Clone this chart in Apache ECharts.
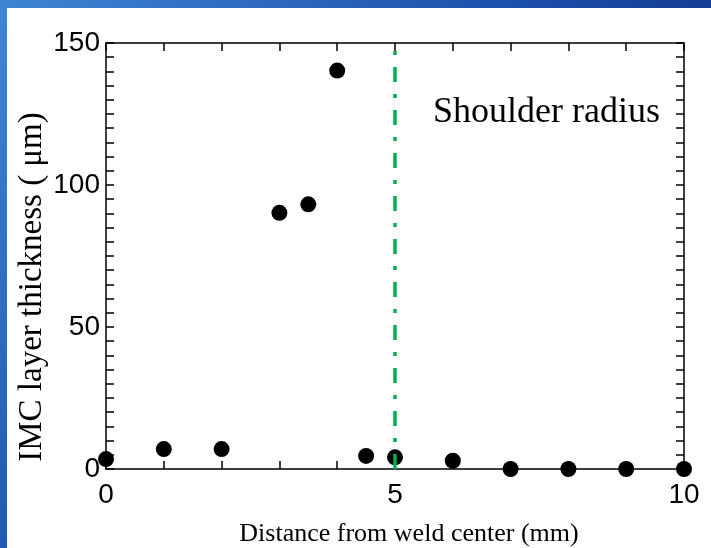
<!DOCTYPE html>
<html>
<head>
<meta charset="utf-8">
<script src="https://cdn.jsdelivr.net/npm/echarts@6/dist/echarts.min.js"></script>
<style>
  html, body { margin: 0; padding: 0; }
  #chart { width: 711px; height: 548px; }
</style>
</head>
<body>
<div id="chart"></div>
<script>
// distance from weld center (mm) and IMC thickness (um)
var distance = [0, 1, 2, 3, 3.5, 4, 4.5, 5, 6, 7, 8, 9, 10];
var thickness = [3.5, 7.0, 7.0, 90.2, 93.2, 140.3, 4.6, 4.1, 2.9, 0, 0, 0, 0];
var xLabels = [0, 5, 10];
var yLabels = [0, 50, 100, 150];
var shoulderRadius = 5;

var chart = echarts.init(document.getElementById('chart'));

var points = distance.map(function(d, i) {
  return [d, thickness[i]];
});

function frameAxis(pos, isX) {
  return {
    type: 'value',
    position: pos,
    min: 0,
    max: isX ? 10 : 150,
    interval: isX ? 1 : 5,
    axisLine: { show: true, onZero: false, lineStyle: { color: '#000', width: 1.5 } },
    axisTick: { show: true, inside: true, length: 8, lineStyle: { color: '#000', width: 1.5 } },
    axisLabel: { show: false },
    splitLine: { show: false }
  };
}

var xBottom = frameAxis('bottom', true);
xBottom.axisLabel = {
  show: true,
  color: '#000',
  fontFamily: 'Liberation Sans',
  fontSize: 28,
  margin: 12,
  formatter: function(v) {
    return xLabels.indexOf(v) >= 0 ? String(v) : '';
  }
};
xBottom.name = 'Distance from weld center (mm)';
xBottom.nameLocation = 'middle';
xBottom.nameGap = 52;
xBottom.nameTextStyle = {
  color: '#000',
  fontFamily: 'Liberation Serif',
  fontSize: 26,
  padding: [0, 0, 0, 28]
};

var yLeft = frameAxis('left', false);
yLeft.axisLabel = {
  show: true,
  color: '#000',
  fontFamily: 'Liberation Sans',
  fontSize: 28,
  margin: 6,
  formatter: function(v) {
    return yLabels.indexOf(v) >= 0 ? String(v) : '';
  }
};
yLeft.name = 'IMC layer thickness ( \u03bcm)';
yLeft.nameLocation = 'middle';
yLeft.nameGap = 57;
yLeft.nameMoveOverlap = false;
yLeft.nameTextStyle = {
  color: '#000',
  fontFamily: 'Liberation Serif',
  fontSize: 33,
  padding: [0, 62, 0, 0]
};

chart.setOption({
  animation: false,
  backgroundColor: {
    type: 'linear', x: 0, y: 0, x2: 1, y2: 1,
    colorStops: [
      { offset: 0, color: '#3f86d6' },
      { offset: 0.5, color: '#1a4aa8' },
      { offset: 1, color: '#0a1c5c' }
    ]
  },
  graphic: [{
    type: 'rect',
    z: -10,
    shape: { x: 7, y: 8, width: 704, height: 540 },
    style: { fill: '#fff' }
  }, {
    type: 'text',
    x: 433,
    y: 113,
    style: {
      text: 'Shoulder radius',
      fill: '#000',
      font: '36px "Liberation Serif"',
      verticalAlign: 'middle'
    }
  }],
  grid: { left: 106, top: 43, right: 27, bottom: 79, outerBoundsMode: 'none' },
  xAxis: [xBottom, frameAxis('top', true)],
  yAxis: [yLeft, frameAxis('right', false)],
  series: [{
    type: 'scatter',
    data: points,
    symbol: 'circle',
    symbolSize: 16,
    itemStyle: { color: '#000', opacity: 1 },
    markLine: {
      silent: true,
      symbol: 'none',
      label: { show: false },
      lineStyle: { color: '#00b050', width: 3.5, type: [15, 12, 4, 12] },
      data: [{ xAxis: shoulderRadius }]
    }
  }]
});
</script>
</body>
</html>
